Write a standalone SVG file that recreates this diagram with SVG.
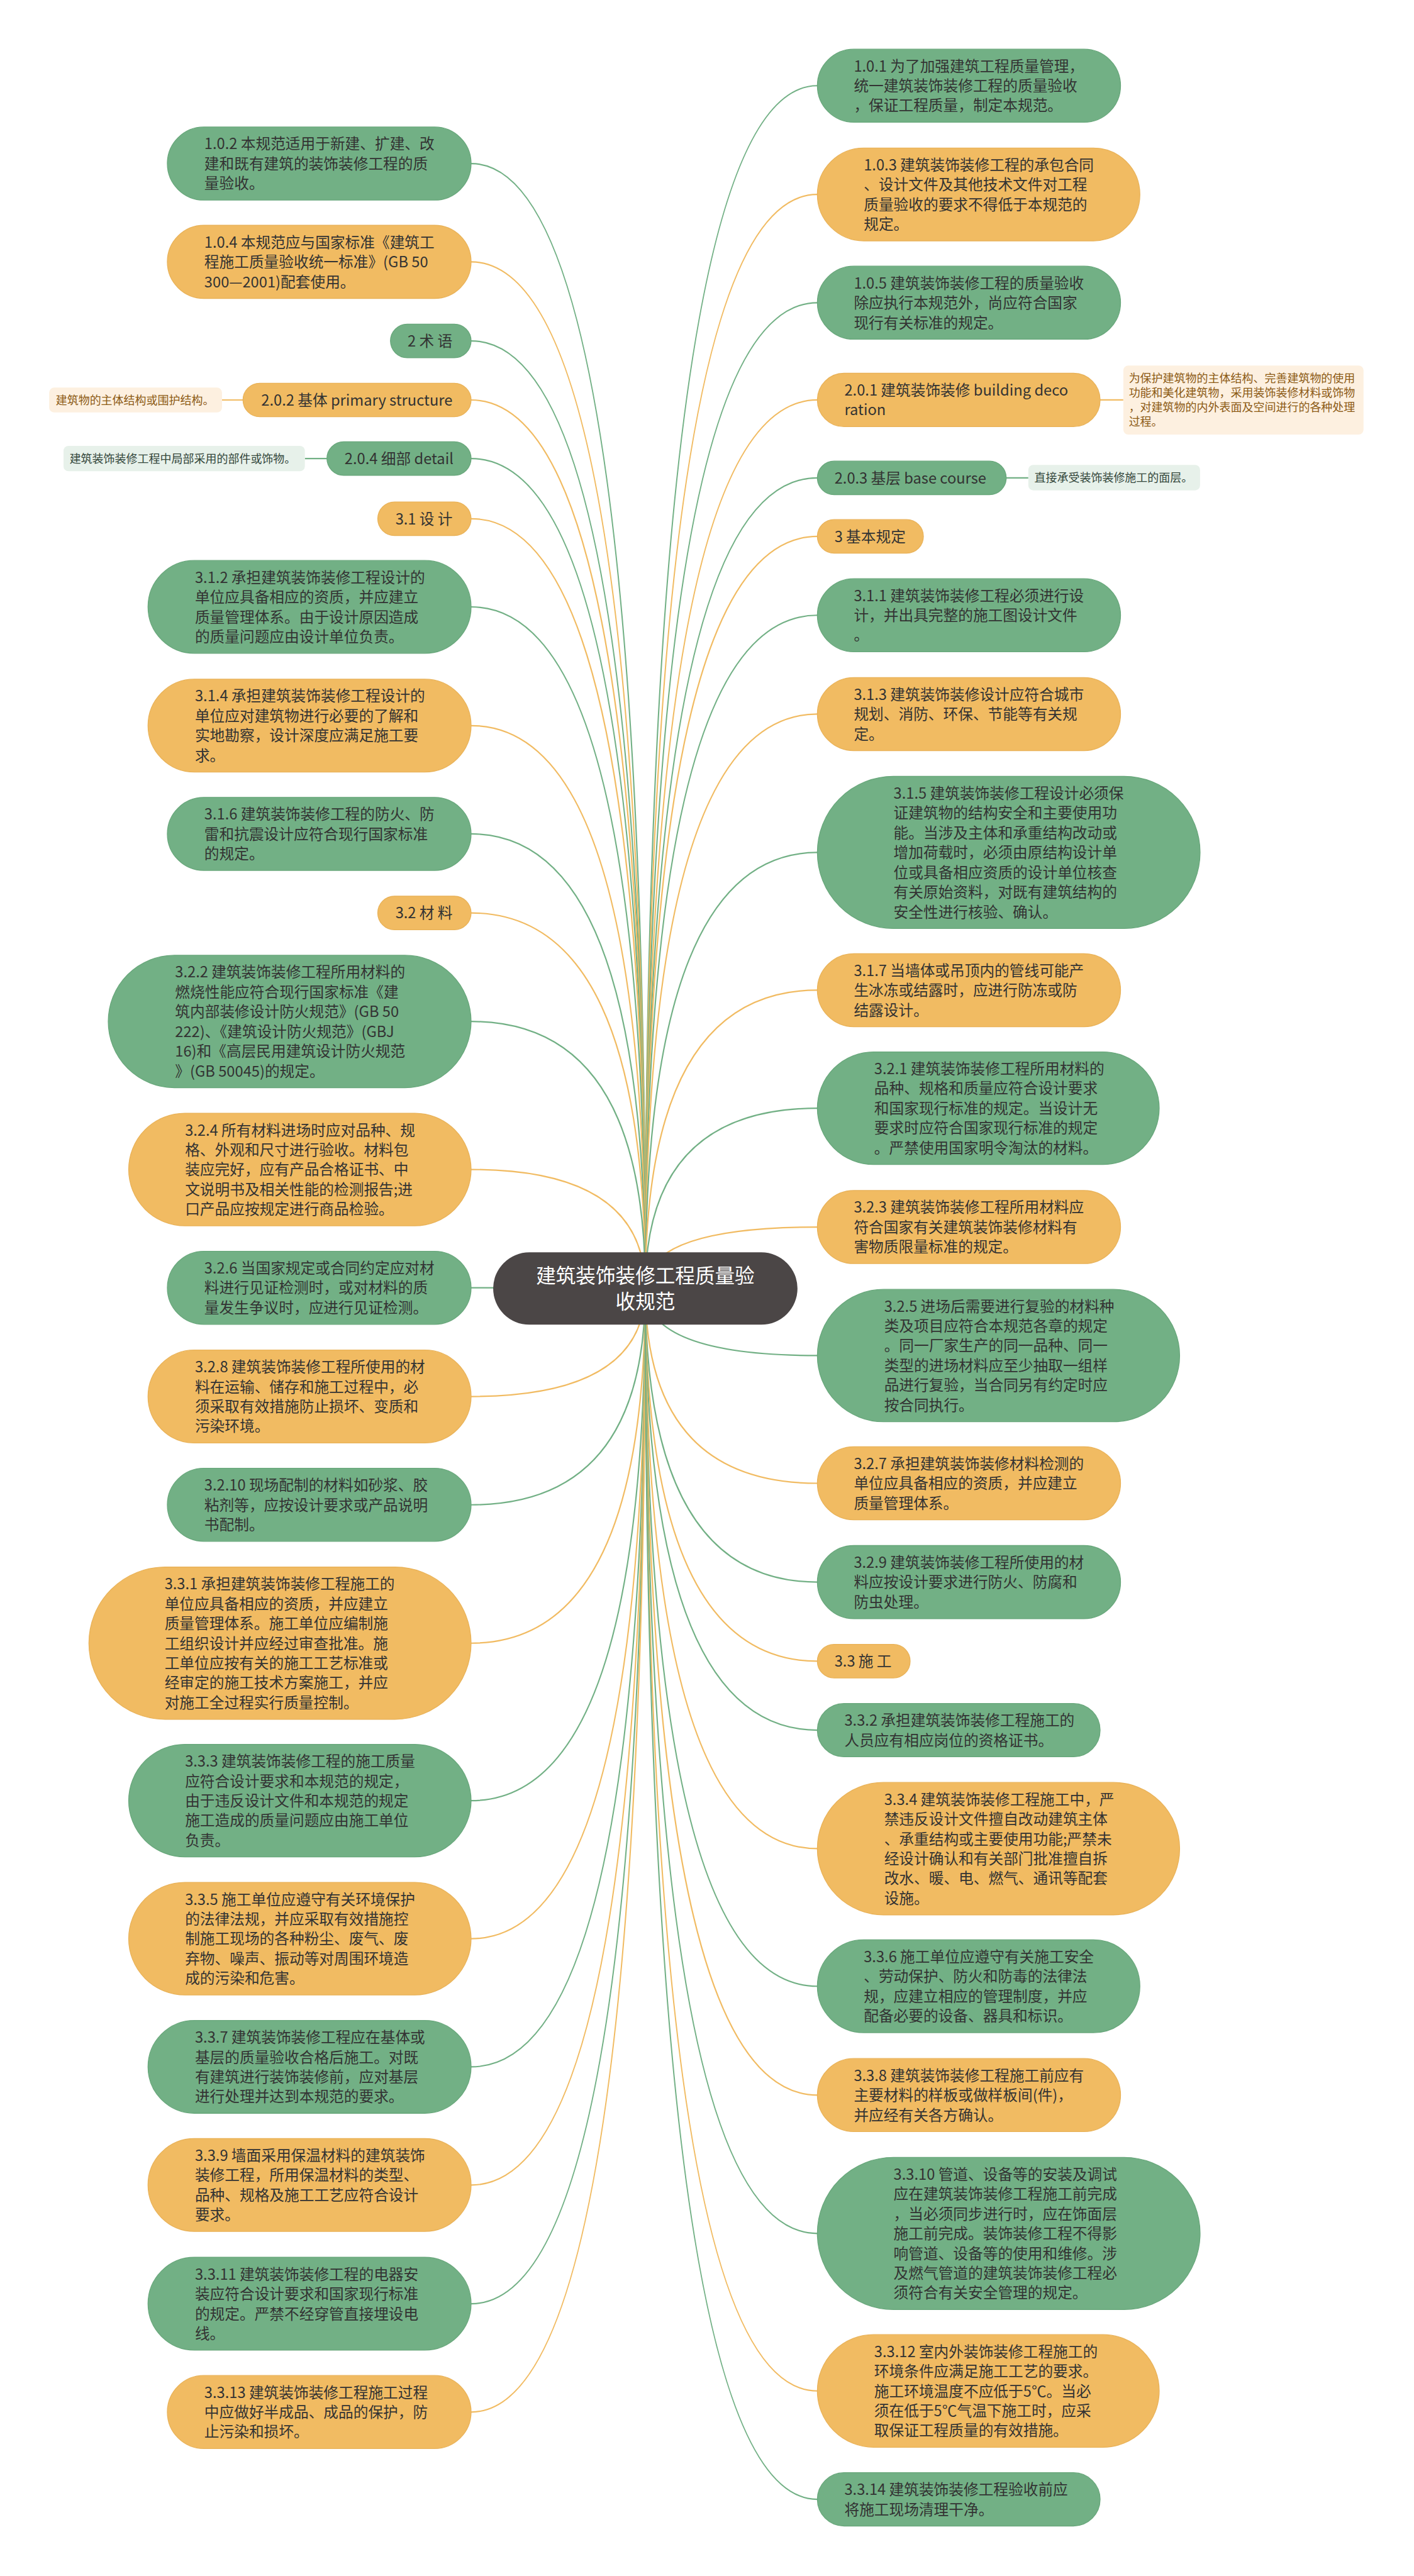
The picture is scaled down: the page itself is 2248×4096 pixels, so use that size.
<svg xmlns="http://www.w3.org/2000/svg" width="2248" height="4096" viewBox="0 0 2248 4096">
<style>
.g{fill:#72b085;stroke:#68a77b;stroke-width:1.5}
.o{fill:#f1bb62;stroke:#e9b258;stroke-width:1.5}
.t{font-family:"Noto Sans CJK SC","Microsoft YaHei",sans-serif;font-size:27px;fill:#333333}
.cg{fill:none;stroke:#72b085;stroke-width:2.5}
.co{fill:none;stroke:#f1bb62;stroke-width:2.5}
.lo{fill:#fdf0e0}
.lg{fill:#e7f1ea}
.lto{font-family:"Noto Sans CJK SC","Microsoft YaHei",sans-serif;font-size:20.5px;fill:#8c5a14}
.ltg{font-family:"Noto Sans CJK SC","Microsoft YaHei",sans-serif;font-size:20.5px;fill:#33463a}
.rt{font-family:"Noto Sans CJK SC","Microsoft YaHei",sans-serif;font-size:36px;fill:#ffffff;text-anchor:middle}
</style>
<rect x="0" y="0" width="2248" height="4096" fill="#ffffff"/>
<g transform="scale(0.878)">
<g id="connectors">
<path class="cg" d="M1168.5 2333.5 Q1168.5 296.2 853 296.2"/>
<path class="co" d="M1168.5 2333.5 Q1168.5 474.2 853 474.2"/>
<path class="cg" d="M1168.5 2333.5 Q1168.5 617.4 853 617.4"/>
<path class="co" d="M1168.5 2333.5 Q1168.5 724.4 853 724.4"/>
<path class="cg" d="M1168.5 2333.5 Q1168.5 830.4 853 830.4"/>
<path class="co" d="M1168.5 2333.5 Q1168.5 939.4 853 939.4"/>
<path class="cg" d="M1168.5 2333.5 Q1168.5 1099.1 853 1099.1"/>
<path class="co" d="M1168.5 2333.5 Q1168.5 1314.1 853 1314.1"/>
<path class="cg" d="M1168.5 2333.5 Q1168.5 1510.2 853 1510.2"/>
<path class="co" d="M1168.5 2333.5 Q1168.5 1653.4 853 1653.4"/>
<path class="cg" d="M1168.5 2333.5 Q1168.5 1849.9 853 1849.9"/>
<path class="co" d="M1168.5 2333.5 Q1168.5 2118 853 2118"/>
<path class="cg" d="M1168.5 2333.5 Q1168.5 2332.2 853 2332.2"/>
<path class="co" d="M1168.5 2333.5 Q1168.5 2529.1 853 2529.1"/>
<path class="cg" d="M1168.5 2333.5 Q1168.5 2725.2 853 2725.2"/>
<path class="co" d="M1168.5 2333.5 Q1168.5 2975.8 853 2975.8"/>
<path class="cg" d="M1168.5 2333.5 Q1168.5 3261 853 3261"/>
<path class="co" d="M1168.5 2333.5 Q1168.5 3511 853 3511"/>
<path class="cg" d="M1168.5 2333.5 Q1168.5 3743.1 853 3743.1"/>
<path class="co" d="M1168.5 2333.5 Q1168.5 3957.1 853 3957.1"/>
<path class="cg" d="M1168.5 2333.5 Q1168.5 4172.1 853 4172.1"/>
<path class="co" d="M1168.5 2333.5 Q1168.5 4368.2 853 4368.2"/>
<path class="cg" d="M1168.5 2333.5 Q1168.5 155.2 1480 155.2"/>
<path class="co" d="M1168.5 2333.5 Q1168.5 352.1 1480 352.1"/>
<path class="cg" d="M1168.5 2333.5 Q1168.5 548.2 1480 548.2"/>
<path class="co" d="M1168.5 2333.5 Q1168.5 724.3 1480 724.3"/>
<path class="cg" d="M1168.5 2333.5 Q1168.5 865.4 1480 865.4"/>
<path class="co" d="M1168.5 2333.5 Q1168.5 971.4 1480 971.4"/>
<path class="cg" d="M1168.5 2333.5 Q1168.5 1114.2 1480 1114.2"/>
<path class="co" d="M1168.5 2333.5 Q1168.5 1293.2 1480 1293.2"/>
<path class="cg" d="M1168.5 2333.5 Q1168.5 1543.8 1480 1543.8"/>
<path class="co" d="M1168.5 2333.5 Q1168.5 1793.2 1480 1793.2"/>
<path class="cg" d="M1168.5 2333.5 Q1168.5 2007 1480 2007"/>
<path class="co" d="M1168.5 2333.5 Q1168.5 2222.2 1480 2222.2"/>
<path class="cg" d="M1168.5 2333.5 Q1168.5 2454.9 1480 2454.9"/>
<path class="co" d="M1168.5 2333.5 Q1168.5 2686.2 1480 2686.2"/>
<path class="cg" d="M1168.5 2333.5 Q1168.5 2865.2 1480 2865.2"/>
<path class="co" d="M1168.5 2333.5 Q1168.5 3008.4 1480 3008.4"/>
<path class="cg" d="M1168.5 2333.5 Q1168.5 3133.3 1480 3133.3"/>
<path class="co" d="M1168.5 2333.5 Q1168.5 3347.9 1480 3347.9"/>
<path class="cg" d="M1168.5 2333.5 Q1168.5 3597.1 1480 3597.1"/>
<path class="co" d="M1168.5 2333.5 Q1168.5 3794.2 1480 3794.2"/>
<path class="cg" d="M1168.5 2333.5 Q1168.5 4044.8 1480 4044.8"/>
<path class="co" d="M1168.5 2333.5 Q1168.5 4330 1480 4330"/>
<path class="cg" d="M1168.5 2333.5 Q1168.5 4526.3 1480 4526.3"/>
<path class="co" d="M402 724.4 L440 724.4"/>
<path class="cg" d="M552 830.4 L592 830.4"/>
<path class="co" d="M1992 724.3 L2034 724.3"/>
<path class="cg" d="M1822 865.4 L1862 865.4"/>
</g>

<g id="root"><rect x="893" y="2268" width="551" height="131" rx="65.5" fill="#4b4646"/>
<text class="rt"><tspan x="1168.5" y="2323.7">建筑装饰装修工程质量验</tspan><tspan x="1168.5" y="2370.7">收规范</tspan></text></g>

<g id="n102"><rect class="g" x="303" y="230" width="550" height="132.4" rx="66.2"/><text class="t"><tspan x="370" y="270.4">1.0.2 本规范适用于新建、扩建、改</tspan><tspan x="370" y="306.2">建和既有建筑的装饰装修工程的质</tspan><tspan x="370" y="342">量验收。</tspan></text></g>
<g id="n104"><rect class="o" x="303" y="408" width="550" height="132.4" rx="66.2"/><text class="t"><tspan x="370" y="448.4">1.0.4 本规范应与国家标准《建筑工</tspan><tspan x="370" y="484.2">程施工质量验收统一标准》(GB 50</tspan><tspan x="370" y="520">300—2001)配套使用。</tspan></text></g>
<g id="n2"><rect class="g" x="707" y="587" width="146" height="60.8" rx="30.4"/><text class="t"><tspan x="738" y="627.4">2 术 语</tspan></text></g>
<g id="n202"><rect class="o" x="440" y="694" width="413" height="60.8" rx="30.4"/><text class="t"><tspan x="473" y="734.4">2.0.2 基体 primary structure</tspan></text></g>
<g id="l202"><rect class="lo" x="89" y="702" width="313" height="45" rx="9"/><text class="lto"><tspan x="101" y="732">建筑物的主体结构或围护结构。</tspan></text></g>
<g id="n204"><rect class="g" x="592" y="800" width="261" height="60.8" rx="30.4"/><text class="t"><tspan x="624" y="840.4">2.0.4 细部 detail</tspan></text></g>
<g id="l204"><rect class="lg" x="115" y="807.4" width="437" height="46" rx="9"/><text class="ltg"><tspan x="126" y="838">建筑装饰装修工程中局部采用的部件或饰物。</tspan></text></g>
<g id="n31"><rect class="o" x="684" y="909" width="169" height="60.8" rx="30.4"/><text class="t"><tspan x="716" y="949.4">3.1 设 计</tspan></text></g>
<g id="n312"><rect class="g" x="268" y="1015" width="585" height="168.2" rx="84.1"/><text class="t"><tspan x="353" y="1055.4">3.1.2 承担建筑装饰装修工程设计的</tspan><tspan x="353" y="1091.2">单位应具备相应的资质，并应建立</tspan><tspan x="353" y="1127">质量管理体系。由于设计原因造成</tspan><tspan x="353" y="1162.8">的质量问题应由设计单位负责。</tspan></text></g>
<g id="n314"><rect class="o" x="268" y="1230" width="585" height="168.2" rx="84.1"/><text class="t"><tspan x="353" y="1270.4">3.1.4 承担建筑装饰装修工程设计的</tspan><tspan x="353" y="1306.2">单位应对建筑物进行必要的了解和</tspan><tspan x="353" y="1342">实地勘察，设计深度应满足施工要</tspan><tspan x="353" y="1377.8">求。</tspan></text></g>
<g id="n316"><rect class="g" x="303" y="1444" width="550" height="132.4" rx="66.2"/><text class="t"><tspan x="370" y="1484.4">3.1.6 建筑装饰装修工程的防火、防</tspan><tspan x="370" y="1520.2">雷和抗震设计应符合现行国家标准</tspan><tspan x="370" y="1556">的规定。</tspan></text></g>
<g id="n32"><rect class="o" x="684" y="1623" width="169" height="60.8" rx="30.4"/><text class="t"><tspan x="716" y="1663.4">3.2 材 料</tspan></text></g>
<g id="n322"><rect class="g" x="196" y="1730" width="657" height="239.8" rx="119.9"/><text class="t"><tspan x="317" y="1770.4">3.2.2 建筑装饰装修工程所用材料的</tspan><tspan x="317" y="1806.2">燃烧性能应符合现行国家标准《建</tspan><tspan x="317" y="1842">筑内部装修设计防火规范》(GB 50</tspan><tspan x="317" y="1877.8">222)、《建筑设计防火规范》(GBJ</tspan><tspan x="317" y="1913.6">16)和《高层民用建筑设计防火规范</tspan><tspan x="317" y="1949.4">》(GB 50045)的规定。</tspan></text></g>
<g id="n324"><rect class="o" x="233" y="2016" width="620" height="204" rx="102"/><text class="t"><tspan x="335" y="2056.4">3.2.4 所有材料进场时应对品种、规</tspan><tspan x="335" y="2092.2">格、外观和尺寸进行验收。材料包</tspan><tspan x="335" y="2128">装应完好，应有产品合格证书、中</tspan><tspan x="335" y="2163.8">文说明书及相关性能的检测报告;进</tspan><tspan x="335" y="2199.6">口产品应按规定进行商品检验。</tspan></text></g>
<g id="n326"><rect class="g" x="303" y="2266" width="550" height="132.4" rx="66.2"/><text class="t"><tspan x="370" y="2306.4">3.2.6 当国家规定或合同约定应对材</tspan><tspan x="370" y="2342.2">料进行见证检测时，或对材料的质</tspan><tspan x="370" y="2378">量发生争议时，应进行见证检测。</tspan></text></g>
<g id="n328"><rect class="o" x="268" y="2445" width="585" height="168.2" rx="84.1"/><text class="t"><tspan x="353" y="2485.4">3.2.8 建筑装饰装修工程所使用的材</tspan><tspan x="353" y="2521.2">料在运输、储存和施工过程中，必</tspan><tspan x="353" y="2557">须采取有效措施防止损坏、变质和</tspan><tspan x="353" y="2592.8">污染环境。</tspan></text></g>
<g id="n3210"><rect class="g" x="303" y="2659" width="550" height="132.4" rx="66.2"/><text class="t"><tspan x="370" y="2699.4">3.2.10 现场配制的材料如砂浆、胶</tspan><tspan x="370" y="2735.2">粘剂等，应按设计要求或产品说明</tspan><tspan x="370" y="2771">书配制。</tspan></text></g>
<g id="n331"><rect class="o" x="161" y="2838" width="692" height="275.6" rx="137.8"/><text class="t"><tspan x="298" y="2878.4">3.3.1 承担建筑装饰装修工程施工的</tspan><tspan x="298" y="2914.2">单位应具备相应的资质，并应建立</tspan><tspan x="298" y="2950">质量管理体系。施工单位应编制施</tspan><tspan x="298" y="2985.8">工组织设计并应经过审查批准。施</tspan><tspan x="298" y="3021.6">工单位应按有关的施工工艺标准或</tspan><tspan x="298" y="3057.4">经审定的施工技术方案施工，并应</tspan><tspan x="298" y="3093.2">对施工全过程实行质量控制。</tspan></text></g>
<g id="n333"><rect class="g" x="233" y="3159" width="620" height="204" rx="102"/><text class="t"><tspan x="335" y="3199.4">3.3.3 建筑装饰装修工程的施工质量</tspan><tspan x="335" y="3235.2">应符合设计要求和本规范的规定，</tspan><tspan x="335" y="3271">由于违反设计文件和本规范的规定</tspan><tspan x="335" y="3306.8">施工造成的质量问题应由施工单位</tspan><tspan x="335" y="3342.6">负责。</tspan></text></g>
<g id="n335"><rect class="o" x="233" y="3409" width="620" height="204" rx="102"/><text class="t"><tspan x="335" y="3449.4">3.3.5 施工单位应遵守有关环境保护</tspan><tspan x="335" y="3485.2">的法律法规，并应采取有效措施控</tspan><tspan x="335" y="3521">制施工现场的各种粉尘、废气、废</tspan><tspan x="335" y="3556.8">弃物、噪声、振动等对周围环境造</tspan><tspan x="335" y="3592.6">成的污染和危害。</tspan></text></g>
<g id="n337"><rect class="g" x="268" y="3659" width="585" height="168.2" rx="84.1"/><text class="t"><tspan x="353" y="3699.4">3.3.7 建筑装饰装修工程应在基体或</tspan><tspan x="353" y="3735.2">基层的质量验收合格后施工。对既</tspan><tspan x="353" y="3771">有建筑进行装饰装修前，应对基层</tspan><tspan x="353" y="3806.8">进行处理并达到本规范的要求。</tspan></text></g>
<g id="n339"><rect class="o" x="268" y="3873" width="585" height="168.2" rx="84.1"/><text class="t"><tspan x="353" y="3913.4">3.3.9 墙面采用保温材料的建筑装饰</tspan><tspan x="353" y="3949.2">装修工程，所用保温材料的类型、</tspan><tspan x="353" y="3985">品种、规格及施工工艺应符合设计</tspan><tspan x="353" y="4020.8">要求。</tspan></text></g>
<g id="n3311"><rect class="g" x="268" y="4088" width="585" height="168.2" rx="84.1"/><text class="t"><tspan x="353" y="4128.4">3.3.11 建筑装饰装修工程的电器安</tspan><tspan x="353" y="4164.2">装应符合设计要求和国家现行标准</tspan><tspan x="353" y="4200">的规定。严禁不经穿管直接埋设电</tspan><tspan x="353" y="4235.8">线。</tspan></text></g>
<g id="n3313"><rect class="o" x="303" y="4302" width="550" height="132.4" rx="66.2"/><text class="t"><tspan x="370" y="4342.4">3.3.13 建筑装饰装修工程施工过程</tspan><tspan x="370" y="4378.2">中应做好半成品、成品的保护，防</tspan><tspan x="370" y="4414">止污染和损坏。</tspan></text></g>

<g id="n101"><rect class="g" x="1480" y="89" width="549" height="132.4" rx="66.2"/><text class="t"><tspan x="1546" y="129.4">1.0.1 为了加强建筑工程质量管理，</tspan><tspan x="1546" y="165.2">统一建筑装饰装修工程的质量验收</tspan><tspan x="1546" y="201">，保证工程质量，制定本规范。</tspan></text></g>
<g id="n103"><rect class="o" x="1480" y="268" width="584" height="168.2" rx="84.1"/><text class="t"><tspan x="1564" y="308.4">1.0.3 建筑装饰装修工程的承包合同</tspan><tspan x="1564" y="344.2">、设计文件及其他技术文件对工程</tspan><tspan x="1564" y="380">质量验收的要求不得低于本规范的</tspan><tspan x="1564" y="415.8">规定。</tspan></text></g>
<g id="n105"><rect class="g" x="1480" y="482" width="549" height="132.4" rx="66.2"/><text class="t"><tspan x="1546" y="522.4">1.0.5 建筑装饰装修工程的质量验收</tspan><tspan x="1546" y="558.2">除应执行本规范外，尚应符合国家</tspan><tspan x="1546" y="594">现行有关标准的规定。</tspan></text></g>
<g id="n201"><rect class="o" x="1480" y="676" width="512" height="96.6" rx="48.3"/><text class="t"><tspan x="1529" y="716.4">2.0.1 建筑装饰装修 building deco</tspan><tspan x="1529" y="752.2">ration</tspan></text></g>
<g id="l201"><rect class="lo" x="2034" y="662" width="435" height="125" rx="9"/><text class="lto"><tspan x="2044" y="692.6">为保护建筑物的主体结构、完善建筑物的使用</tspan><tspan x="2044" y="718.9">功能和美化建筑物，采用装饰装修材料或饰物</tspan><tspan x="2044" y="745.2">，对建筑物的内外表面及空间进行的各种处理</tspan><tspan x="2044" y="771.5">过程。</tspan></text></g>
<g id="n203"><rect class="g" x="1480" y="835" width="342" height="60.8" rx="30.4"/><text class="t"><tspan x="1511" y="875.4">2.0.3 基层 base course</tspan></text></g>
<g id="l203"><rect class="lg" x="1862" y="842" width="311" height="46" rx="9"/><text class="ltg"><tspan x="1873" y="872.6">直接承受装饰装修施工的面层。</tspan></text></g>
<g id="n3"><rect class="o" x="1480" y="941" width="192" height="60.8" rx="30.4"/><text class="t"><tspan x="1511" y="981.4">3 基本规定</tspan></text></g>
<g id="n311"><rect class="g" x="1480" y="1048" width="549" height="132.4" rx="66.2"/><text class="t"><tspan x="1546" y="1088.4">3.1.1 建筑装饰装修工程必须进行设</tspan><tspan x="1546" y="1124.2">计，并出具完整的施工图设计文件</tspan><tspan x="1546" y="1160">。</tspan></text></g>
<g id="n313"><rect class="o" x="1480" y="1227" width="549" height="132.4" rx="66.2"/><text class="t"><tspan x="1546" y="1267.4">3.1.3 建筑装饰装修设计应符合城市</tspan><tspan x="1546" y="1303.2">规划、消防、环保、节能等有关规</tspan><tspan x="1546" y="1339">定。</tspan></text></g>
<g id="n315"><rect class="g" x="1480" y="1406" width="693" height="275.6" rx="137.8"/><text class="t"><tspan x="1618" y="1446.4">3.1.5 建筑装饰装修工程设计必须保</tspan><tspan x="1618" y="1482.2">证建筑物的结构安全和主要使用功</tspan><tspan x="1618" y="1518">能。当涉及主体和承重结构改动或</tspan><tspan x="1618" y="1553.8">增加荷载时，必须由原结构设计单</tspan><tspan x="1618" y="1589.6">位或具备相应资质的设计单位核查</tspan><tspan x="1618" y="1625.4">有关原始资料，对既有建筑结构的</tspan><tspan x="1618" y="1661.2">安全性进行核验、确认。</tspan></text></g>
<g id="n317"><rect class="o" x="1480" y="1727" width="549" height="132.4" rx="66.2"/><text class="t"><tspan x="1546" y="1767.4">3.1.7 当墙体或吊顶内的管线可能产</tspan><tspan x="1546" y="1803.2">生冰冻或结露时，应进行防冻或防</tspan><tspan x="1546" y="1839">结露设计。</tspan></text></g>
<g id="n321"><rect class="g" x="1480" y="1905" width="619" height="204" rx="102"/><text class="t"><tspan x="1583" y="1945.4">3.2.1 建筑装饰装修工程所用材料的</tspan><tspan x="1583" y="1981.2">品种、规格和质量应符合设计要求</tspan><tspan x="1583" y="2017">和国家现行标准的规定。当设计无</tspan><tspan x="1583" y="2052.8">要求时应符合国家现行标准的规定</tspan><tspan x="1583" y="2088.6">。严禁使用国家明令淘汰的材料。</tspan></text></g>
<g id="n323"><rect class="o" x="1480" y="2156" width="549" height="132.4" rx="66.2"/><text class="t"><tspan x="1546" y="2196.4">3.2.3 建筑装饰装修工程所用材料应</tspan><tspan x="1546" y="2232.2">符合国家有关建筑装饰装修材料有</tspan><tspan x="1546" y="2268">害物质限量标准的规定。</tspan></text></g>
<g id="n325"><rect class="g" x="1480" y="2335" width="656" height="239.8" rx="119.9"/><text class="t"><tspan x="1601" y="2375.4">3.2.5 进场后需要进行复验的材料种</tspan><tspan x="1601" y="2411.2">类及项目应符合本规范各章的规定</tspan><tspan x="1601" y="2447">。同一厂家生产的同一品种、同一</tspan><tspan x="1601" y="2482.8">类型的进场材料应至少抽取一组样</tspan><tspan x="1601" y="2518.6">品进行复验，当合同另有约定时应</tspan><tspan x="1601" y="2554.4">按合同执行。</tspan></text></g>
<g id="n327"><rect class="o" x="1480" y="2620" width="549" height="132.4" rx="66.2"/><text class="t"><tspan x="1546" y="2660.4">3.2.7 承担建筑装饰装修材料检测的</tspan><tspan x="1546" y="2696.2">单位应具备相应的资质，并应建立</tspan><tspan x="1546" y="2732">质量管理体系。</tspan></text></g>
<g id="n329"><rect class="g" x="1480" y="2799" width="549" height="132.4" rx="66.2"/><text class="t"><tspan x="1546" y="2839.4">3.2.9 建筑装饰装修工程所使用的材</tspan><tspan x="1546" y="2875.2">料应按设计要求进行防火、防腐和</tspan><tspan x="1546" y="2911">防虫处理。</tspan></text></g>
<g id="n33"><rect class="o" x="1480" y="2978" width="168" height="60.8" rx="30.4"/><text class="t"><tspan x="1511" y="3018.4">3.3 施 工</tspan></text></g>
<g id="n332"><rect class="g" x="1480" y="3085" width="512" height="96.6" rx="48.3"/><text class="t"><tspan x="1529" y="3125.4">3.3.2 承担建筑装饰装修工程施工的</tspan><tspan x="1529" y="3161.2">人员应有相应岗位的资格证书。</tspan></text></g>
<g id="n334"><rect class="o" x="1480" y="3228" width="656" height="239.8" rx="119.9"/><text class="t"><tspan x="1601" y="3268.4">3.3.4 建筑装饰装修工程施工中，严</tspan><tspan x="1601" y="3304.2">禁违反设计文件擅自改动建筑主体</tspan><tspan x="1601" y="3340">、承重结构或主要使用功能;严禁未</tspan><tspan x="1601" y="3375.8">经设计确认和有关部门批准擅自拆</tspan><tspan x="1601" y="3411.6">改水、暖、电、燃气、通讯等配套</tspan><tspan x="1601" y="3447.4">设施。</tspan></text></g>
<g id="n336"><rect class="g" x="1480" y="3513" width="584" height="168.2" rx="84.1"/><text class="t"><tspan x="1564" y="3553.4">3.3.6 施工单位应遵守有关施工安全</tspan><tspan x="1564" y="3589.2">、劳动保护、防火和防毒的法律法</tspan><tspan x="1564" y="3625">规，应建立相应的管理制度，并应</tspan><tspan x="1564" y="3660.8">配备必要的设备、器具和标识。</tspan></text></g>
<g id="n338"><rect class="o" x="1480" y="3728" width="549" height="132.4" rx="66.2"/><text class="t"><tspan x="1546" y="3768.4">3.3.8 建筑装饰装修工程施工前应有</tspan><tspan x="1546" y="3804.2">主要材料的样板或做样板间(件)，</tspan><tspan x="1546" y="3840">并应经有关各方确认。</tspan></text></g>
<g id="n3310"><rect class="g" x="1480" y="3907" width="693" height="275.6" rx="137.8"/><text class="t"><tspan x="1618" y="3947.4">3.3.10 管道、设备等的安装及调试</tspan><tspan x="1618" y="3983.2">应在建筑装饰装修工程施工前完成</tspan><tspan x="1618" y="4019">，当必须同步进行时，应在饰面层</tspan><tspan x="1618" y="4054.8">施工前完成。装饰装修工程不得影</tspan><tspan x="1618" y="4090.6">响管道、设备等的使用和维修。涉</tspan><tspan x="1618" y="4126.4">及燃气管道的建筑装饰装修工程必</tspan><tspan x="1618" y="4162.2">须符合有关安全管理的规定。</tspan></text></g>
<g id="n3312"><rect class="o" x="1480" y="4228" width="619" height="204" rx="102"/><text class="t"><tspan x="1583" y="4268.4">3.3.12 室内外装饰装修工程施工的</tspan><tspan x="1583" y="4304.2">环境条件应满足施工工艺的要求。</tspan><tspan x="1583" y="4340">施工环境温度不应低于5℃。当必</tspan><tspan x="1583" y="4375.8">须在低于5℃气温下施工时，应采</tspan><tspan x="1583" y="4411.6">取保证工程质量的有效措施。</tspan></text></g>
<g id="n3314"><rect class="g" x="1480" y="4478" width="512" height="96.6" rx="48.3"/><text class="t"><tspan x="1529" y="4518.4">3.3.14 建筑装饰装修工程验收前应</tspan><tspan x="1529" y="4554.2">将施工现场清理干净。</tspan></text></g>
</g>
</svg>
